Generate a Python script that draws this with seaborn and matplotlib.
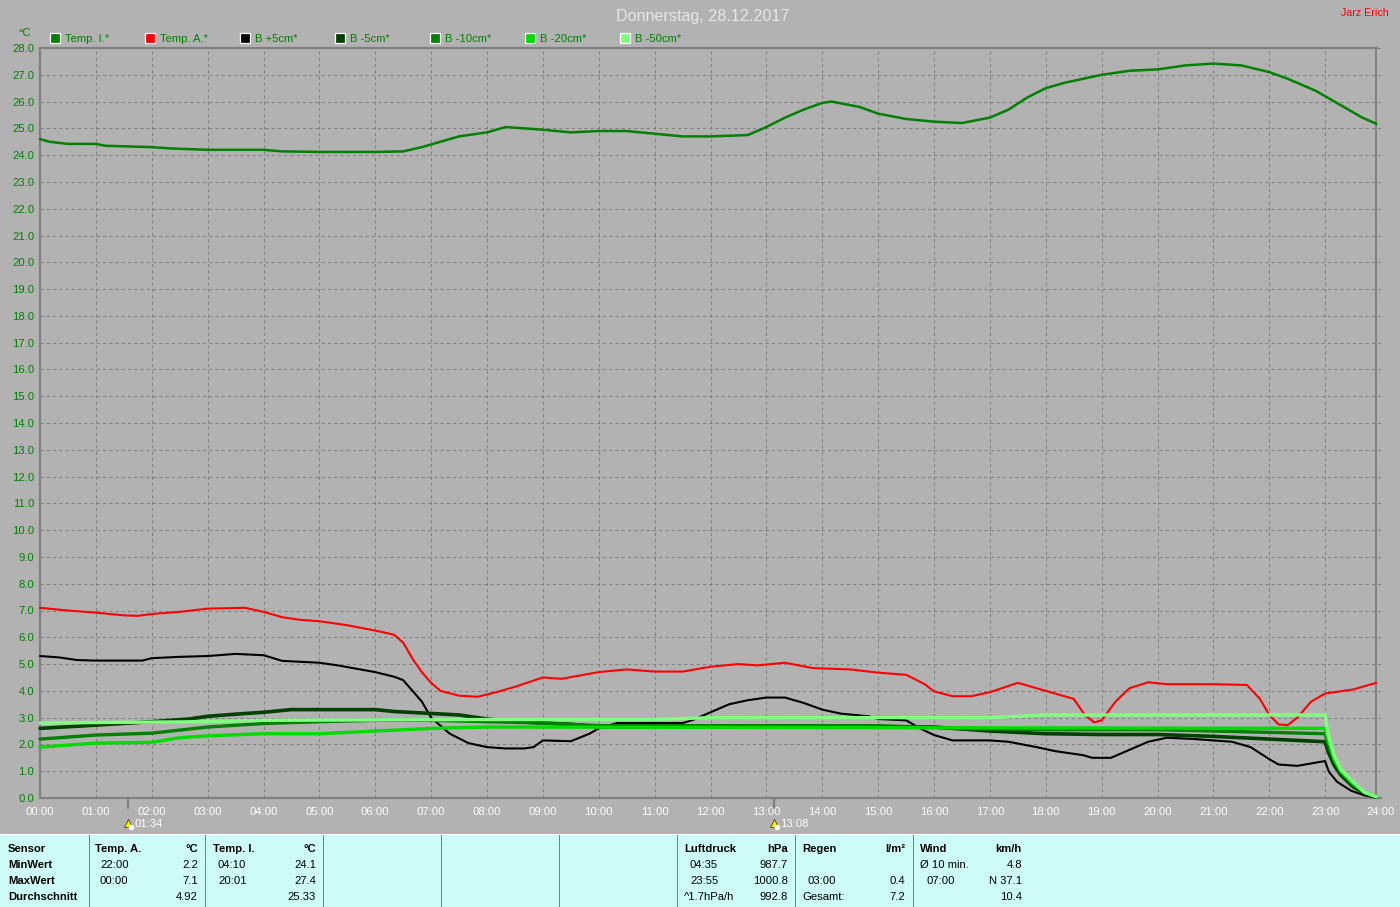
import pandas as pd
import matplotlib
matplotlib.use("Agg")
import matplotlib.pyplot as plt
from matplotlib.patches import Rectangle
import seaborn as sns

# Kurven des Tages, Zeit als HH:MM, Werte in Grad C
temp_i_t = ["00:00", "00:10", "00:30", "01:00", "01:10", "02:00", "02:20", "03:00", "04:00", "04:20", "05:00", "06:00",
            "06:30", "06:50", "07:30", "08:00", "08:20", "09:00", "09:30", "10:00", "10:30", "11:00", "11:30", "12:00",
            "12:40", "13:00", "13:20", "13:40", "14:00", "14:10", "14:40", "15:00", "15:30", "16:00", "16:30", "17:00",
            "17:20", "17:40", "18:00", "18:20", "19:00", "19:30", "20:00", "20:30", "21:00", "21:30", "22:00", "22:20",
            "22:50", "23:20", "23:40", "23:55"]
temp_i_v = [24.6, 24.5, 24.42, 24.42, 24.35, 24.3, 24.25, 24.2, 24.2, 24.14, 24.12, 24.12,
            24.14, 24.3, 24.7, 24.85, 25.05, 24.95, 24.85, 24.9, 24.9, 24.8, 24.7, 24.7,
            24.75, 25.05, 25.4, 25.7, 25.95, 26.0, 25.8, 25.55, 25.35, 25.25, 25.2, 25.4,
            25.7, 26.15, 26.5, 26.7, 27.0, 27.15, 27.2, 27.35, 27.42, 27.35, 27.1, 26.85,
            26.4, 25.8, 25.4, 25.17]

temp_a_t = ["00:00", "00:30", "01:00", "01:30", "01:45", "02:00", "02:30", "03:00", "03:40", "04:00", "04:20", "04:40",
            "05:00", "05:30", "06:00", "06:20", "06:30", "06:40", "06:50", "07:00", "07:10", "07:30", "07:50", "08:10",
            "08:30", "09:00", "09:20", "10:00", "10:30", "11:00", "11:30", "12:00", "12:30", "12:50", "13:20", "13:50",
            "14:30", "15:00", "15:30", "15:50", "16:00", "16:20", "16:40", "17:00", "17:30", "18:00", "18:30", "18:42",
            "18:52", "19:00", "19:15", "19:30", "19:50", "20:10", "21:00", "21:36", "21:50", "22:00", "22:10", "22:20",
            "22:30", "22:45", "23:00", "23:30", "23:55"]
temp_a_v = [7.1, 7.0, 6.92, 6.82, 6.8, 6.87, 6.95, 7.07, 7.1, 6.95, 6.75, 6.65,
            6.6, 6.45, 6.25, 6.1, 5.8, 5.2, 4.7, 4.3, 4.0, 3.82, 3.78, 3.95,
            4.15, 4.5, 4.45, 4.7, 4.8, 4.72, 4.72, 4.9, 5.0, 4.95, 5.05, 4.85,
            4.8, 4.68, 4.6, 4.25, 3.98, 3.8, 3.8, 3.95, 4.3, 4.0, 3.7, 3.1,
            2.82, 2.9, 3.6, 4.1, 4.32, 4.25, 4.25, 4.22, 3.7, 3.1, 2.75, 2.72,
            3.0, 3.6, 3.9, 4.05, 4.3]

b_plus5_t = ["00:00", "00:20", "00:40", "01:00", "01:50", "02:00", "02:30", "03:00", "03:30", "04:00", "04:20", "05:00",
             "05:20", "06:00", "06:20", "06:30", "06:40", "06:50", "07:00", "07:20", "07:40", "08:00", "08:20", "08:40",
             "08:50", "09:00", "09:30", "09:50", "10:00", "10:20", "11:30", "11:40", "12:00", "12:20", "12:40", "13:00",
             "13:20", "13:40", "14:00", "14:20", "14:50", "15:00", "15:30", "15:45", "16:00", "16:20", "17:00", "17:20",
             "17:50", "18:10", "18:40", "18:50", "19:10", "19:30", "19:50", "20:10", "20:40", "21:20", "21:40", "22:00",
             "22:10", "22:30", "23:00", "23:04", "23:13", "23:28", "23:42", "23:55"]
b_plus5_v = [5.3, 5.25, 5.15, 5.13, 5.13, 5.22, 5.27, 5.3, 5.38, 5.33, 5.12, 5.05,
             4.95, 4.7, 4.53, 4.4, 4.0, 3.6, 3.0, 2.4, 2.05, 1.9, 1.85, 1.85,
             1.9, 2.15, 2.12, 2.4, 2.6, 2.8, 2.8, 2.9, 3.2, 3.5, 3.65, 3.75,
             3.75, 3.55, 3.3, 3.15, 3.05, 2.95, 2.9, 2.6, 2.35, 2.15, 2.15, 2.1,
             1.9, 1.75, 1.6, 1.5, 1.5, 1.8, 2.1, 2.25, 2.2, 2.1, 1.9, 1.45,
             1.25, 1.2, 1.38, 0.98, 0.6, 0.27, 0.1, 0.02]

b_minus5_t = ["00:00", "01:00", "02:00", "02:40", "03:00", "03:30", "04:00", "04:30", "06:00", "06:20", "07:30", "08:00",
              "08:30", "09:30", "10:00", "15:00", "16:00", "17:00", "18:00", "19:00", "20:00", "21:00", "22:00", "23:00",
              "23:03", "23:10", "23:17", "23:30", "23:42", "23:55"]
b_minus5_v = [2.6, 2.72, 2.85, 2.95, 3.05, 3.13, 3.2, 3.3, 3.3, 3.23, 3.1, 2.95,
              2.85, 2.75, 2.65, 2.65, 2.65, 2.5, 2.4, 2.37, 2.37, 2.3, 2.2, 2.1,
              1.75, 1.2, 0.85, 0.42, 0.18, 0.03]

b_minus10_t = ["00:00", "01:00", "02:00", "03:00", "04:00", "05:00", "06:00", "07:00", "08:00", "09:00", "10:00", "15:00",
               "16:30", "18:00", "19:00", "20:00", "21:00", "22:00", "23:00", "23:03", "23:10", "23:17", "23:30", "23:42",
               "23:55"]
b_minus10_v = [2.2, 2.35, 2.42, 2.65, 2.78, 2.85, 2.9, 2.9, 2.85, 2.8, 2.7, 2.7,
               2.6, 2.55, 2.55, 2.55, 2.5, 2.45, 2.4, 2.0, 1.35, 0.95, 0.48, 0.2,
               0.04]

b_minus20_t = ["00:00", "00:40", "01:00", "02:00", "02:30", "03:00", "04:00", "05:00", "06:00", "07:00", "08:00", "23:00",
               "23:03", "23:10", "23:17", "23:30", "23:42", "23:55"]
b_minus20_v = [1.9, 2.0, 2.05, 2.08, 2.25, 2.32, 2.4, 2.4, 2.5, 2.6, 2.65, 2.6,
               2.2, 1.45, 1.0, 0.55, 0.22, 0.05]

b_minus50_t = ["00:00", "03:00", "04:00", "08:00", "11:00", "12:00", "17:00", "18:00", "23:00", "23:03", "23:10", "23:17",
               "23:28", "23:42", "23:55"]
b_minus50_v = [2.8, 2.85, 2.9, 2.93, 2.93, 3.0, 3.0, 3.1, 3.1, 2.4, 1.55, 1.07,
               0.67, 0.22, 0.05]

series_names = ["Temp. I.*", "Temp. A.*", "B +5cm*", "B -5cm*", "B -10cm*", "B -20cm*", "B -50cm*"]
series_times = [temp_i_t, temp_a_t, b_plus5_t, b_minus5_t, b_minus10_t, b_minus20_t, b_minus50_t]
series_values = [temp_i_v, temp_a_v, b_plus5_v, b_minus5_v, b_minus10_v, b_minus20_v, b_minus50_v]
series_colors = ["#008000", "#ff0000", "#000000", "#004000", "#008000", "#00dc00", "#80ff80"]
series_widths = [1.8, 1.5, 1.5, 2.6, 2.4, 2.4, 2.4]

y_ticks = list(range(0, 29))
x_ticks = list(range(0, 25))
sun_times = ["01:34", "13:08"]

title = "Donnerstag, 28.12.2017"
author = "Jarz Erich"

# Tabelle unten: (Text, x, Zeile)
table_bold = [("Sensor", 8, 0), ("MinWert", 8, 1), ("MaxWert", 8, 2), ("Durchschnitt", 8, 3),
              ("Temp. A.", 95, 0), ("Temp. I.", 213, 0), ("Luftdruck", 684, 0), ("Regen", 802, 0), ("Wind", 920, 0)]
table_bold_right = [("°C", 198, 0), ("°C", 316, 0), ("hPa", 788, 0), ("l/m²", 905, 0), ("km/h", 1022, 0)]
table_left = [("22:00", 100, 1), ("00:00", 100, 2), ("04:10", 218, 1), ("20:01", 218, 2),
              ("04:35", 690, 1), ("23:55", 690, 2), ("^1.7hPa/h", 684, 3),
              ("03:00", 808, 2), ("Gesamt:", 802, 3), ("Ø 10 min.", 920, 1), ("07:00", 926, 2)]
table_right = [("2.2", 198, 1), ("7.1", 198, 2), ("4.92", 198, 3), ("24.1", 316, 1), ("27.4", 316, 2), ("25.33", 316, 3),
               ("987.7", 788, 1), ("1000.8", 788, 2), ("992.8", 788, 3), ("0.4", 905, 2), ("7.2", 905, 3),
               ("4.8", 1022, 1), ("N 37.1", 1022, 2), ("10.4", 1022, 3)]
table_dividers = [89, 205, 323, 441, 559, 677, 795, 913]


def to_hours(times):
    return [int(t[:2]) + int(t[3:]) / 60 for t in times]


W, H = 1400, 907
BG = "#b2b2b2"
GRID = "#808080"
FS = 8.1
sns.set_theme(style="whitegrid")
plt.rcParams["font.family"] = ["Liberation Sans", "DejaVu Sans"]
plt.rcParams["font.size"] = FS


def put_text(x, y, s, **kw):
    kw.setdefault("va", "center")
    kw.setdefault("fontsize", FS)
    fig.text(x / W, 1 - y / H, s, **kw)


fig = plt.figure(figsize=(W / 100, H / 100), dpi=100, facecolor=BG)
ax = fig.add_axes([40 / W, 1 - 798 / H, (1381 - 40) / W, (798 - 48) / H], facecolor=BG)

for name, times, values, color, width in zip(series_names, series_times, series_values, series_colors, series_widths):
    df = pd.DataFrame({"stunde": to_hours(times), "wert": values})
    sns.lineplot(data=df, x="stunde", y="wert", color=color, linewidth=width, estimator=None,
                 sort=False, ax=ax, zorder=3, clip_on=False)

ax.set_xlim(0, 24)
ax.set_ylim(0, 28)
ax.set_xticks(x_ticks)
ax.set_xticklabels([f"{h:02d}:00" for h in x_ticks], color="white", fontsize=FS)
ax.set_yticks(y_ticks)
ax.set_yticklabels([f"{v:.1f}" for v in y_ticks], color="#008000", fontsize=FS)
ax.tick_params(axis="x", length=0, pad=6.5)
ax.tick_params(axis="y", length=0, pad=4)
ax.set_xlabel("")
ax.set_ylabel("")
ax.grid(True, color=GRID, linestyle=(0, (3, 3)), linewidth=0.75)
ax.set_axisbelow(True)

for side in ["left", "top", "bottom"]:
    ax.spines[side].set_color(GRID)
    ax.spines[side].set_linewidth(1.6)
ax.spines["right"].set_visible(False)
ax.spines["top"].set_bounds(0, 23.92)
ax.axvline(to_hours(["23:55"])[0], color=GRID, linewidth=1.4, zorder=2)

# Sonnenaufgang und -untergang
for hour, label in zip(to_hours(sun_times), sun_times):
    ax.plot([hour, hour], [0, -0.38], color=GRID, linewidth=1.6, clip_on=False, zorder=2)
    ax.plot(hour, -0.95, marker="^", color="#ffee00", markeredgecolor="black", markeredgewidth=0.4,
            markersize=6, clip_on=False)
    ax.plot(hour + 0.06, -1.1, marker="o", color="white", markersize=4, markeredgewidth=0, clip_on=False)
    ax.text(hour + 0.12, -0.97, label, color="white", fontsize=FS, va="center", ha="left", clip_on=False)

put_text(702.5, 16, title, color="#e6e6e6", fontsize=11.6, ha="center")
put_text(1389, 12.5, author, color="#ff0000", fontsize=7.7, ha="right")
put_text(25, 33, "°C", color="#008000", ha="center")

# Legende oben
for i, (name, color) in enumerate(zip(series_names, series_colors)):
    x0 = 50 + i * 95
    fig.add_artist(Rectangle((x0 / W, 1 - 43 / H), 10 / W, 10 / H, transform=fig.transFigure,
                             facecolor=color, edgecolor="white", linewidth=0.9))
    put_text(x0 + 15, 38.5, name, color="#008000")

# Tabelle
fig.add_artist(Rectangle((0, 0), 1, (H - 835) / H, transform=fig.transFigure, facecolor="#ccfbf8", edgecolor="none"))
fig.add_artist(Rectangle((0, (H - 835) / H), 1, 1.5 / H, transform=fig.transFigure, facecolor="white", edgecolor="none"))
for x in table_dividers:
    fig.add_artist(Rectangle((x / W, 0), 1 / W, (H - 835) / H, transform=fig.transFigure,
                             facecolor="#7f7f7f", edgecolor="none"))

rows = [849, 865, 881, 897]
for text, x, row in table_bold:
    put_text(x, rows[row], text, color="black", fontweight="bold", ha="left")
for text, x, row in table_bold_right:
    put_text(x, rows[row], text, color="black", fontweight="bold", ha="right")
for text, x, row in table_left:
    put_text(x, rows[row], text, color="black", ha="left")
for text, x, row in table_right:
    put_text(x, rows[row], text, color="black", ha="right")

plt.savefig("out.png", dpi=100, facecolor=BG)
